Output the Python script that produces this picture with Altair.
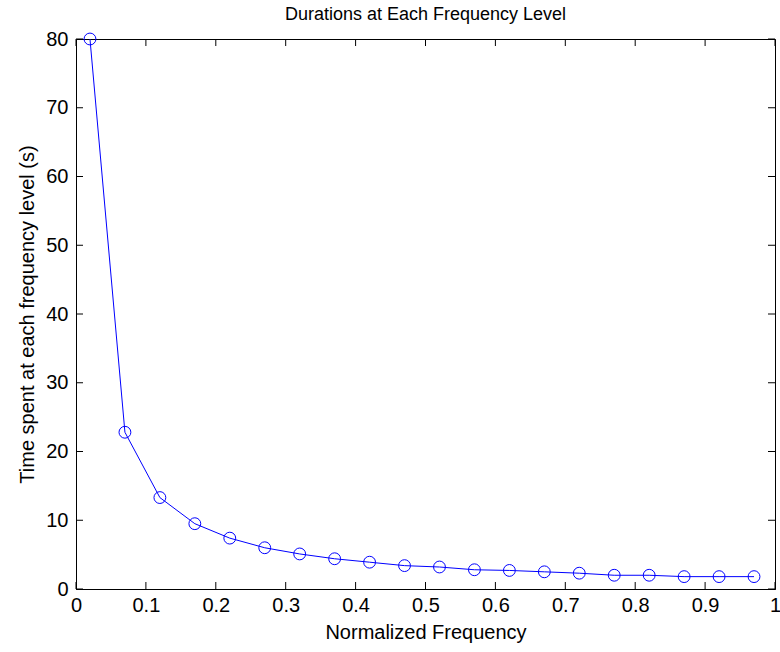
import altair as alt
import pandas as pd

freq = [0.02, 0.07, 0.12, 0.17, 0.22, 0.27, 0.32, 0.37, 0.42, 0.47,
        0.52, 0.57, 0.62, 0.67, 0.72, 0.77, 0.82, 0.87, 0.92, 0.97]
time_s = [80.0, 22.8, 13.3, 9.5, 7.4, 6.0, 5.1, 4.4, 3.9, 3.4,
          3.2, 2.8, 2.7, 2.5, 2.3, 2.0, 2.0, 1.8, 1.8, 1.8]
x_ticks = [0, 0.1, 0.2, 0.3, 0.4, 0.5, 0.6, 0.7, 0.8, 0.9, 1.0]
y_ticks = [0, 10, 20, 30, 40, 50, 60, 70, 80]

W, H = 699, 550
FONT = "Liberation Sans"
BLUE = "#0000ff"

df = pd.DataFrame({"freq": freq, "time": time_s})
dfx = pd.DataFrame({"freq": x_ticks})
dfy = pd.DataFrame({"time": y_ticks})

xscale = alt.Scale(domain=[0, 1], nice=False, zero=False)
yscale = alt.Scale(domain=[0, 80], nice=False, zero=False)

xaxis = alt.Axis(values=x_ticks, format="~g", ticks=False, grid=False,
                 domainColor="black", labelColor="black", labelFontSize=20,
                 labelFont=FONT, labelPadding=6, labelOverlap=False, labelFlush=False,
                 titleFont=FONT, titleFontSize=20, titleFontWeight="normal",
                 titleColor="black", titlePadding=7)
yaxis = alt.Axis(values=y_ticks, ticks=False, grid=False,
                 domainColor="black", labelColor="black", labelFontSize=20,
                 labelFont=FONT, labelPadding=8, labelOverlap=False, labelFlush=False,
                 titleFont=FONT, titleFontSize=20, titleFontWeight="normal",
                 titleColor="black", titlePadding=8)

X = alt.X("freq:Q", scale=xscale, axis=xaxis, title="Normalized Frequency")
Y = alt.Y("time:Q", scale=yscale, axis=yaxis, title="Time spent at each frequency level (s)")

base = alt.Chart(df)
line = base.mark_line(color=BLUE, strokeWidth=1).encode(x=X, y=Y)
pts = base.mark_point(shape="circle", filled=False, color=BLUE, size=140,
                      strokeWidth=1, opacity=1).encode(x=X, y=Y)

tx_b = alt.Chart(dfx).mark_rule(color="black", strokeWidth=1).encode(
    x=X, y=alt.value(H), y2=alt.value(H - 7))
tx_t = alt.Chart(dfx).mark_rule(color="black", strokeWidth=1).encode(
    x=X, y=alt.value(0), y2=alt.value(7))
ty_l = alt.Chart(dfy).mark_rule(color="black", strokeWidth=1).encode(
    y=Y, x=alt.value(0), x2=alt.value(7))
ty_r = alt.Chart(dfy).mark_rule(color="black", strokeWidth=1).encode(
    y=Y, x=alt.value(W), x2=alt.value(W - 7))

chart = alt.layer(tx_b, tx_t, ty_l, ty_r, line, pts).properties(
    width=W, height=H,
    autosize="none",
    padding={"left": 76, "top": 39, "right": 5, "bottom": 63},
    background="white",
    title=alt.TitleParams("Durations at Each Frequency Level",
                          font=FONT, fontSize=18, fontWeight="normal",
                          color="black", anchor="middle", offset=5),
).configure_view(stroke="black", strokeWidth=1)

chart.save("out.html", embed_options={"renderer": "svg", "actions": False})
